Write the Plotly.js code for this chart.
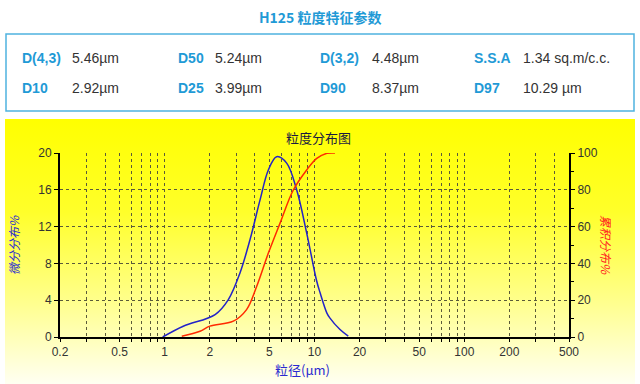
<!DOCTYPE html>
<html><head><meta charset="utf-8">
<script src="https://cdn.plot.ly/plotly-3.0.1.min.js"></script>
<style>
html,body{margin:0;padding:0;background:#fff;}
#wrap{position:relative;width:640px;height:384px;overflow:hidden;}
#bg{position:absolute;left:5px;top:119px;width:630px;height:265px;
 background:linear-gradient(to bottom,#ffff00 0%,#ffff2a 35%,#ffff90 70%,#fffff2 100%);}
#chart{position:absolute;left:0;top:0;width:640px;height:384px;}
</style></head>
<body><div id="wrap"><div id="bg"></div><div id="chart"></div></div>
<script>
// particle size distribution data
const diffSize = [0.97, 1.33, 2.17, 2.66, 3.18, 3.71, 4.33, 4.92, 5.59, 6.52, 7.6, 8.87, 10.3, 10.9, 12.1, 12.65, 14.8, 16.8];
const diffPct  = [0.0, 1.17, 2.44, 4.07, 6.96, 10.57, 14.9, 18.16, 19.6, 18.9, 16.0, 11.3, 6.2, 4.8, 2.6, 2.08, 0.81, 0.1];
const cumSize = [1.30, 1.72, 2.0, 2.87, 3.52, 4.11, 4.92, 5.89, 7.22, 8.87, 10.35, 12.1, 13.7];
const cumPct  = [0.4, 3.1, 5.9, 8.6, 14.9, 27.5, 45.6, 61.9, 79.9, 90.8, 97.1, 99.8, 100];
const xGridVals = [0.2,0.3,0.4,0.5,0.6,0.7,0.8,0.9,1,2,3,4,5,6,7,8,9,10,20,30,40,50,60,70,80,90,100,200,300,400,500];
const xLabelVals = [0.2,0.5,1,2,5,10,20,50,100,200,500];
const yLeftTicks = [0,4,8,12,16,20];
const yRightTicks = [0,20,40,60,80,100];
const headerTitle = 'H125 粒度特征参数';
const paramNames = ['D(4,3)','D50','D(3,2)','S.S.A','D10','D25','D90','D97'];
const paramValues = ['5.46µm','5.24µm','4.48µm','1.34 sq.m/c.c.','2.92µm','3.99µm','8.37µm','10.29 µm'];
const chartTitle = '粒度分布图';
const xTitle = '粒径(μm)';
const yLeftTitle = '微分分布%';
const yRightTitle = '累积分布%';

const W=640,H=384,L=60,R=71,T=153,B=47;
const pw=W-L-R, ph=H-T-B;
const px=x=>(x-L)/pw, py=y=>(H-B-y)/ph;
const sans='"Liberation Sans", Arial, sans-serif';
const cjk='"Noto Sans CJK SC", sans-serif';
const blueHdr='#1f9ad6';

const ann=[];
ann.push({text:'<b>'+headerTitle+'</b>',x:px(320),y:py(17),xref:'paper',yref:'paper',showarrow:false,
  font:{family:cjk,size:14,color:blueHdr},xanchor:'center',yanchor:'middle'});
const colName=[20,176,318,472], colVal=[70,213,370,521], rowY=[58,88];
for(let i=0;i<8;i++){
  const r=Math.floor(i/4), c=i%4;
  ann.push({text:'<b>'+paramNames[i]+'</b>',x:px(colName[c]),y:py(rowY[r]),xref:'paper',yref:'paper',showarrow:false,
    font:{family:sans,size:14,color:blueHdr},xanchor:'left',yanchor:'middle'});
  ann.push({text:paramValues[i],x:px(colVal[c]),y:py(rowY[r]),xref:'paper',yref:'paper',showarrow:false,
    font:{family:sans,size:14,color:'#333'},xanchor:'left',yanchor:'middle'});
}
ann.push({text:chartTitle,x:px(318),y:py(137),xref:'paper',yref:'paper',showarrow:false,
  font:{family:cjk,size:13,color:'#1a1a40'},xanchor:'center',yanchor:'middle'});
ann.push({text:xTitle,x:px(302),y:py(369),xref:'paper',yref:'paper',showarrow:false,
  font:{family:cjk,size:13,color:'#2a2ad0'},xanchor:'center',yanchor:'middle'});
ann.push({text:'<i>'+yLeftTitle+'</i>',x:px(13),y:py(245),xref:'paper',yref:'paper',showarrow:false,textangle:-90,
  font:{family:cjk,size:12,color:'#2a2ad0'},xanchor:'center',yanchor:'middle'});
ann.push({text:'<i>'+yRightTitle+'</i>',x:px(607),y:py(245),xref:'paper',yref:'paper',showarrow:false,textangle:90,
  font:{family:cjk,size:12,color:'#ff2020'},xanchor:'center',yanchor:'middle'});

const shapes=[{type:'rect',xref:'paper',yref:'paper',x0:px(6),x1:px(634),y0:py(34),y1:py(111),
  line:{color:'#4fb3e0',width:1.5},fillcolor:'rgba(0,0,0,0)'}];

const traces=[
 {x:diffSize,y:diffPct,type:'scatter',mode:'lines',line:{color:'#2323c8',width:1.5,shape:'spline'},yaxis:'y',hoverinfo:'skip'},
 {x:cumSize,y:cumPct,type:'scatter',mode:'lines',line:{color:'#ff2a00',width:1.5,shape:'spline'},yaxis:'y2',hoverinfo:'skip'}
];
const gridDash='3px,3px';
const layout={
 width:W,height:H,margin:{l:L,r:R,t:T,b:B},showlegend:false,
 paper_bgcolor:'rgba(0,0,0,0)',plot_bgcolor:'rgba(0,0,0,0)',
 xaxis:{type:'log',range:[Math.log10(0.2),Math.log10(500)],tickvals:xGridVals,
   ticktext:xGridVals.map(v=>xLabelVals.includes(v)?String(v):''),
   showgrid:true,gridcolor:'#5a5a3a',griddash:gridDash,gridwidth:1,
   showline:true,linecolor:'#000',linewidth:2,ticks:'outside',ticklen:3,tickcolor:'#000',
   tickfont:{family:sans,size:12,color:'#333'},zeroline:false,fixedrange:true},
 yaxis:{range:[0,20],tickvals:yLeftTicks,showgrid:true,gridcolor:'#5a5a3a',griddash:gridDash,
   showline:true,linecolor:'#000',linewidth:2,ticks:'outside',ticklen:4,tickcolor:'#000',
   tickfont:{family:sans,size:12,color:'#333'},zeroline:false},
 yaxis2:{range:[0,100],tickvals:yRightTicks,overlaying:'y',side:'right',showgrid:false,
   showline:true,linecolor:'#000',linewidth:2,ticks:'outside',ticklen:4,tickcolor:'#000',
   minor:{dtick:10,ticks:'outside',ticklen:3,tickcolor:'#000'},
   tickfont:{family:sans,size:12,color:'#333'},zeroline:false},
 annotations:ann,shapes:shapes
};
Plotly.newPlot('chart',traces,layout,{staticPlot:true});
</script></body></html>
